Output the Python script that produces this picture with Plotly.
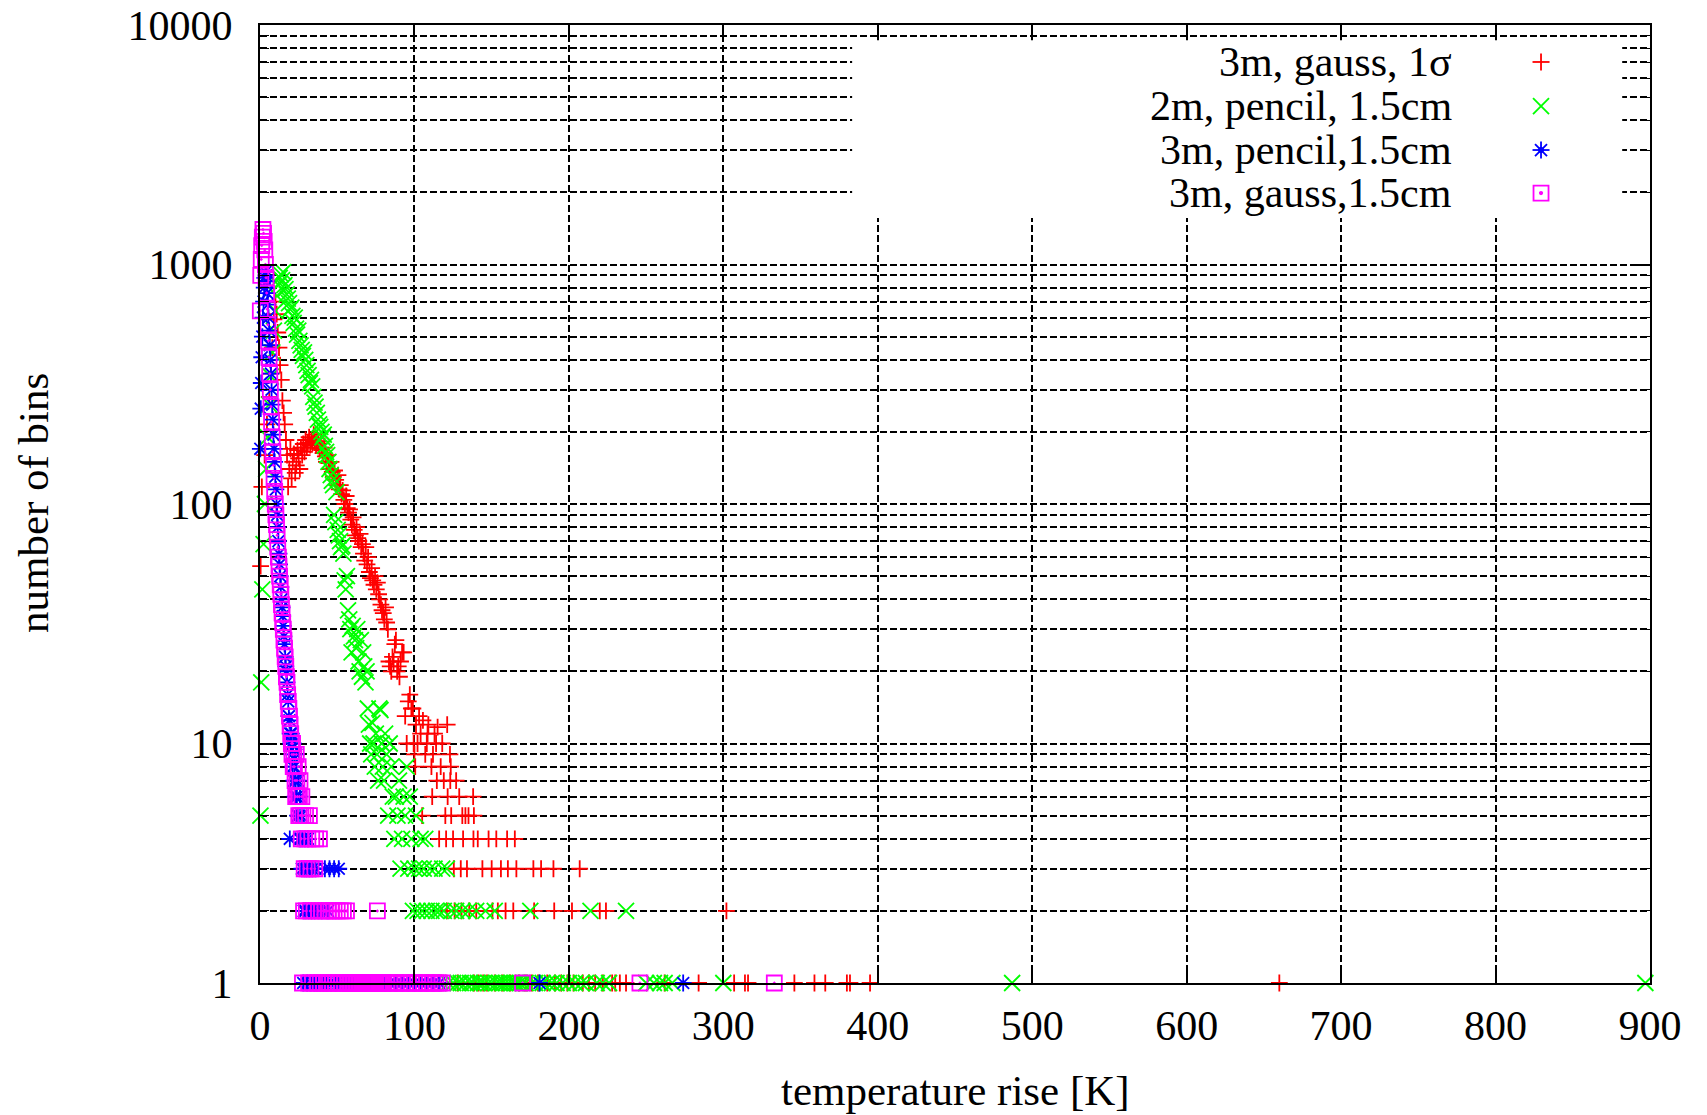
import plotly.graph_objects as go

# ---- data: counts per temperature-rise value ----

# 3m, gauss, 1 sigma
red_x = [0.4, 1.2, 3, 4.5, 6, 7, 8, 9, 10, 10.8, 11.5, 12.3, 13, 13.8, 14.5, 15.3, 16, 16.8, 17.5,
         18.2, 19, 19.7, 20.5, 21.2, 22, 22.8, 23.5, 24.3, 25, 25.8, 26.5, 27.3, 28, 28.8, 29.5,
         30.3, 31, 31.8, 32.5, 33.3, 34, 34.8, 35.5, 36.3, 37, 37.8, 38.5, 39.3, 40, 40.8, 41.5,
         42.3, 43, 43.8, 44.5, 45.3, 46, 46.8, 47.5, 48.3, 49, 49.8, 50.5, 51.3, 52, 52.8, 53.5,
         54.3, 55, 55.8, 56.5, 57.3, 58, 58.8, 59.5, 60.3, 61, 61.8, 62.5, 63.3, 64, 64.8, 65.5,
         66.3, 67, 67.8, 68.5, 69.3, 70, 70.8, 71.5, 72.3, 73, 73.8, 74.5, 75.3, 76, 76.8, 77.5,
         78.3, 79, 79.8, 80.5, 81.3, 82, 82.8, 83.5, 84.3, 85, 85.8, 86.5, 87.3, 88, 88.8, 89.5,
         90.3, 91, 92, 93, 94, 96, 97, 98, 99,
         95, 99.5, 102, 108, 114, 118,
         100, 107, 112, 123,
         100.5, 111, 117, 123.5,
         114.5, 119, 123.2, 127,
         111.5, 121.5, 129, 138,
         105, 120, 123.8, 131, 133, 135, 138.5,
         116, 120.5, 125, 131.5, 138.2, 141, 148, 153, 160, 165,
         125.5, 130, 134, 144, 150, 156, 160.5, 166, 177, 182, 190, 207,
         121, 126, 130.5, 135.5, 140, 150.5, 154, 159, 164, 177.5, 190.5, 202, 220, 224, 302,
         101, 103, 104, 105.5, 108.5, 109, 113, 115, 121.2,
         128, 138.6, 141.5, 144.5, 147, 152, 157, 162, 168, 172, 176, 180, 186, 191, 195, 199,
         203, 209, 213, 217, 222, 228, 230, 233, 237, 262, 284, 307, 314, 316, 346, 359, 366,
         380, 382, 395, 660]
red_y = [55, 118, 160, 215, 280, 350, 450, 590, 700, 620, 520, 450, 380, 330, 270, 240, 215, 185, 160,
         118, 140, 170, 128, 150, 162, 135, 145, 168, 155, 140, 172, 160, 178, 165, 185,
         172, 180, 190, 176, 186, 180, 195, 183, 176, 188, 178, 170, 182, 168, 163, 172,
         158, 150, 160, 148, 140, 150, 136, 130, 138, 126, 120, 132, 115, 120, 110, 114,
         104, 100, 108, 96, 92, 95, 86, 82, 88, 78, 74, 80, 72, 70, 75, 66,
         68, 62, 58, 66, 56, 60, 52, 49, 54, 48, 46, 50, 44, 47, 42, 40,
         38, 36, 35, 33, 37, 32, 30, 22, 21, 20, 23, 22, 26, 27, 20, 21,
         19, 22, 24, 24, 13, 15, 16, 14, 14,
         10, 10, 10, 10, 10, 10,
         9, 9, 9, 9,
         8, 8, 8, 8,
         7, 7, 7, 7,
         6, 6, 6, 6,
         5, 5, 5, 5, 5, 5, 5,
         4, 4, 4, 4, 4, 4, 4, 4, 4, 4,
         3, 3, 3, 3, 3, 3, 3, 3, 3, 3, 3, 3,
         2, 2, 2, 2, 2, 2, 2, 2, 2, 2, 2, 2, 2, 2, 2,
         12, 13, 11, 12.5, 11, 12, 11, 11.7, 12,
         1, 1, 1, 1, 1, 1, 1, 1, 1, 1, 1, 1, 1, 1, 1, 1,
         1, 1, 1, 1, 1, 1, 1, 1, 1, 1, 1, 1, 1, 1, 1, 1, 1,
         1, 1, 1, 1]

# 2m, pencil, 1.5cm
green_x = [0.3, 0.8, 1.5, 2.3, 3.2, 4, 5, 6, 7, 8, 9, 10, 11, 12, 12.8, 13.5, 14.3, 15, 15.8,
           16.5, 17.3, 18, 18.8, 19.5, 20.3, 21, 21.8, 22.5, 23.3, 24, 24.8, 25.5, 26.3, 27,
           27.8, 28.5, 29.3, 30, 30.8, 31.5, 32.3, 33, 33.8, 34.5, 35.3, 36, 36.8, 37.5, 38.3,
           39, 39.8, 40.5, 41.3, 42, 42.8, 43.5, 44.3, 45, 45.8, 46.5, 47.3, 48, 48.8, 49.5,
           50.3, 51, 51.8, 52.5, 53.3, 54, 54.8, 55.5, 56.3, 57, 57.8, 58.5, 59.3, 60, 60.8,
           61.5, 62.3, 63, 63.8, 64.5, 65.3, 66, 66.8, 67.5, 68.3, 69, 69.8, 70.5, 71.3, 72,
           72.8, 73.5, 74.3, 75, 75.8, 76.5, 77.3, 78, 78.8, 79.5, 80.3, 81, 82, 83, 84, 85,
           86, 87, 88, 89, 90, 91, 92, 93, 94, 95, 96, 97, 98, 99, 100, 101, 102, 103, 104,
           105, 106, 107, 108, 110, 111, 113, 114, 116, 118, 119, 121, 122, 124, 125, 127, 128,
           130, 131, 133, 135, 136, 138, 140, 141, 143, 145, 146, 148, 150, 152, 153, 155, 157,
           159, 161, 163, 165, 166, 168, 170, 172, 175, 176, 178, 183, 186, 189, 192, 196, 200,
           204, 208, 211, 214, 218, 222, 226, 237, 250, 255, 259, 262, 267, 300, 487, 897]
green_y = [5, 18, 44, 68, 100, 140, 190, 260, 340, 430, 530, 640, 740, 820, 880, 910, 860, 930, 820,
           790, 750, 720, 690, 650, 660, 610, 570, 600, 540, 510, 530, 480, 460, 440,
           415, 430, 400, 380, 360, 345, 320, 330, 310, 280, 265, 255, 240, 225, 215,
           210, 200, 190, 195, 175, 165, 160, 150, 140, 132, 125, 120, 90, 84, 112,
           78, 74, 70, 66, 67, 62, 48, 44, 50, 36, 33, 30, 24, 31, 28,
           27, 25, 30, 22, 20, 27, 19, 24, 21, 18, 20, 14, 12, 10, 9,
           12.2, 10, 8, 11, 9, 7, 14, 13.8, 10, 8, 7, 11, 9, 5, 10, 8,
           6, 4, 6, 5, 7, 3, 4, 6, 5, 8, 3, 6, 4, 2, 3, 5, 2, 3, 4,
           2, 3, 4, 2, 3, 2, 3, 2, 2, 3, 2, 3, 1, 2, 1, 2, 1,
           1, 2, 1, 2, 1, 1, 2, 1, 1, 1, 2, 1, 1, 2, 1, 1, 1,
           1, 1, 1, 1, 1, 1, 1, 1, 2, 1, 1, 1, 1, 1, 1, 1, 1,
           1, 1, 1, 2, 1, 1, 1, 2, 1, 1, 1, 1, 1, 1, 1, 1]

# 3m, pencil, 1.5cm
blue_x = [0.2, 0.5, 0.8, 1.1, 1.5, 1.9, 2.3, 2.7, 3.1, 3.5, 3.9, 4.3, 4.7, 5.1, 5.5, 5.9, 6.3,
          6.7, 7.1, 7.5, 7.9, 8.3, 8.7, 9.1, 9.5, 9.9, 10.3, 10.7, 11.1, 11.5, 11.9, 12.3, 12.7,
          13.1, 13.5, 13.9, 14.3, 14.7, 15.1, 15.5, 15.9, 16.3, 16.7, 17.1, 17.5, 17.9, 18.3,
          18.7, 19.1, 19.5, 19.9, 20.3, 20.7, 21.1, 21.5, 21.9, 22.3, 22.7, 23.1, 23.5, 23.9,
          24.3, 24.7, 25.1, 25.5, 25.9, 26.3, 26.7, 27.1, 27.5, 28, 28.3, 28.7, 29.1, 29.5, 30,
          30.5, 31, 31.5, 32, 33, 33.5, 34, 35, 35.5, 36, 37, 38, 39, 40, 41, 42, 43, 44, 45,
          46, 48, 49, 51, 52, 54, 56, 58, 60, 62, 64, 66, 69, 72, 75, 78, 81, 84, 88, 92, 96,
          100, 104, 108, 112, 116, 181, 274, 19.3]
blue_y = [170, 250, 320, 410, 500, 600, 700, 800, 880, 930, 900, 850, 760, 680, 600, 530, 460,
          400, 350, 300, 260, 225, 195, 170, 150, 130, 115, 100, 90, 80, 70, 62, 56,
          50, 45, 40, 37, 34, 31, 28, 26, 23, 21, 20, 18, 16, 15,
          13, 12.5, 11, 10, 11, 9, 8, 10, 7, 8, 6, 7, 9, 6,
          5, 7, 5, 4, 6, 4, 5, 3, 4, 1, 2, 3, 4, 2, 3,
          1, 4, 2, 3, 1, 2, 3, 1, 2, 3, 1, 2, 1, 2, 1, 3, 1, 2, 3,
          1, 3, 1, 3, 1, 1, 1, 1, 1, 1, 1, 1, 1, 1, 1, 1, 1, 1, 1, 1, 1,
          1, 1, 1, 1, 1, 1, 1, 4]

# 3m, gauss, 1.5cm
magenta_x = [0.2, 0.5, 0.8, 1.1, 1.5, 1.9, 2.3, 2.7, 3.1, 3.5, 3.9, 4.3, 4.7, 5.1, 5.5, 5.9, 6.3,
             6.7, 7.1, 7.5, 7.9, 8.3, 8.7, 9.1, 9.5, 9.9, 10.3, 10.7, 11.1, 11.5, 11.9, 12.3,
             12.7, 13.1, 13.5, 13.9, 14.3, 14.7, 15.1, 15.5, 15.9, 16.3, 16.7, 17.1, 17.5, 17.9,
             18.3, 18.7, 19.1, 19.5, 19.9, 20.3, 20.7, 21.1, 21.5, 21.9, 22.3, 22.7, 23.1, 23.5,
             23.9, 24.3, 24.7, 25.1, 25.5, 25.9, 26.3, 26.7, 27.1, 27.5, 27.8, 28.2, 28.6, 29,
             29.5, 30, 30.5, 31, 31.5, 32, 32.5, 33, 33.5, 34, 35, 35.5, 36, 37, 38, 38.5, 39, 40,
             41, 42, 43, 44, 45, 46, 47, 48, 49, 50, 51, 52, 53, 54, 55, 56, 57, 58, 59, 60, 61,
             62, 63, 64, 65, 66, 67, 68, 69, 70, 71, 72, 73, 74, 75, 76, 77, 78, 79, 80, 82, 84,
             86, 88, 90, 92, 94, 96, 98, 100, 102, 104, 106, 108, 110, 112, 114, 116, 118, 170,
             246, 333]
magenta_y = [640, 900, 1050, 1200, 1300, 1400, 1350, 1250, 1150, 1000, 880, 760, 650, 560, 480, 410, 350,
             300, 255, 220, 190, 165, 145, 128, 113, 100, 90, 82, 74, 66, 60, 55,
             50, 46, 42, 38, 35, 32, 30, 27, 25, 23, 21, 19, 18, 16,
             15, 14, 13, 12, 11, 10, 9, 10, 8, 9, 8, 7, 6, 9,
             7, 6, 8, 5, 6, 7, 5, 4, 6, 1, 5, 2, 3, 4,
             5, 2, 3, 4, 1, 5, 2, 3, 4, 1, 2, 3, 4, 1, 2, 4, 1, 2,
             1, 2, 1, 2, 1, 2, 1, 2, 1, 2, 1, 2, 1, 2, 1, 2, 1, 1, 1, 1, 1,
             1, 1, 1, 1, 1, 1, 1, 1, 1, 1, 1, 1, 1, 1, 2, 1, 1, 1, 1, 1, 1,
             1, 1, 1, 1, 1, 1, 1, 1, 1, 1, 1, 1, 1, 1, 1, 1, 1, 1,
             1, 1]

series_names = ["3m, gauss, 1σ", "2m, pencil, 1.5cm", "3m, pencil,1.5cm", "3m, gauss,1.5cm"]

x_ticks = [0, 100, 200, 300, 400, 500, 600, 700, 800, 900]
y_ticks = [1, 10, 100, 1000, 10000]
y_tick_text = ["1", "10", "100", "1000", "10000"]
y_minor = [m * d for d in (1, 10, 100, 1000) for m in range(2, 10)]

x_title = "temperature rise [K]"
y_title = "number of bins"

# ---- styling ----
FONT = "Liberation Serif, Times New Roman, serif"
GRID = dict(color="black", width=1.7, dash="7px,3px")
MARK_W = 1.8

styles = [
    dict(symbol="cross-thin-open", size=12, color="#ff0000", key="plus"),
    dict(symbol="x-thin-open", size=16, color="#00ff00", key="cross"),
    dict(symbol="asterisk-open", size=14, color="#0000ff", key="star"),
    dict(symbol="square-open-dot", size=15, color="#ff00ff", key="box"),
]
data = [(red_x, red_y), (green_x, green_y), (blue_x, blue_y), (magenta_x, magenta_y)]

fig = go.Figure()
for (xs, ys), st, name in zip(data, styles, series_names):
    fig.add_trace(go.Scatter(
        x=xs, y=ys, mode="markers", name=name, showlegend=False, cliponaxis=False,
        marker=dict(symbol=st["symbol"], size=st["size"], color=st["color"],
                    line=dict(color=st["color"], width=MARK_W)),
    ))

# ---- key (gnuplot style: label right-aligned, sample symbol to its right) ----
# blank key area hides the grid behind the labels
fig.add_shape(type="rect", xref="paper", yref="paper",
              x0=0.426, x1=0.98, y0=0.7985, y1=0.984,
              fillcolor="white", line=dict(width=0), layer="above")


def key_symbol(kind, cx, cy, color):
    """Sample symbol drawn as pixel-sized shapes anchored at a paper position."""
    base = dict(xref="paper", yref="paper", xsizemode="pixel", ysizemode="pixel",
                xanchor=cx, yanchor=cy, layer="above",
                line=dict(color=color, width=MARK_W))
    segs = []
    if kind == "plus":
        segs = [(-8.5, 0, 8.5, 0), (0, -8.5, 0, 8.5)]
    elif kind == "cross":
        segs = [(-8, -8, 8, 8), (-8, 8, 8, -8)]
    elif kind == "star":
        segs = [(-8.5, 0, 8.5, 0), (0, -8.5, 0, 8.5), (-6, -6, 6, 6), (-6, 6, 6, -6)]
    for x0, y0, x1, y1 in segs:
        fig.add_shape(type="line", x0=x0, y0=y0, x1=x1, y1=y1, **base)
    if kind == "star":
        fig.add_shape(type="circle", x0=-2, y0=-2, x1=2, y1=2, fillcolor=color, **base)
    if kind == "box":
        fig.add_shape(type="rect", x0=-7.5, y0=-7.5, x1=7.5, y1=7.5, **base)
        fig.add_shape(type="circle", x0=-1.2, y0=-1.2, x1=1.2, y1=1.2, fillcolor=color, **base)


key_x = 0.9216
key_text_x = 0.859
key_rows = [0.9614, 0.9154, 0.8695, 0.8246]
for st, name, ky in zip(styles, series_names, key_rows):
    key_symbol(st["key"], key_x, ky, st["color"])
    fig.add_annotation(x=key_text_x, y=ky, xref="paper", yref="paper", text=name,
                       showarrow=False, xanchor="right", yanchor="middle",
                       font=dict(family=FONT, size=42, color="black"))

axis_common = dict(
    showline=True, linecolor="black", linewidth=2, mirror="ticks",
    ticks="inside", ticklen=17, tickwidth=1.5, tickcolor="black",
    showgrid=True, gridcolor=GRID["color"], gridwidth=GRID["width"], griddash=GRID["dash"],
    zeroline=False, automargin=False,
    tickfont=dict(family=FONT, size=42, color="black"),
)

fig.update_layout(
    width=1707, height=1115,
    margin=dict(l=260, r=57, t=25, b=132, autoexpand=False),
    paper_bgcolor="white", plot_bgcolor="white",
    xaxis=dict(range=[0, 900], tickmode="array", tickvals=x_ticks,
               ticklabelstandoff=5, **axis_common),
    yaxis=dict(type="log", range=[0, 4], tickmode="array", tickvals=y_ticks,
               ticktext=y_tick_text, ticklabelstandoff=17,
               minor=dict(tickmode="array", tickvals=y_minor, ticks="inside", ticklen=9,
                          tickwidth=1.2, tickcolor="black", showgrid=True,
                          gridcolor=GRID["color"], gridwidth=GRID["width"],
                          griddash=GRID["dash"]),
               **axis_common),
)

fig.add_annotation(x=0.5, y=-0.1127, xref="paper", yref="paper", text=x_title,
                   showarrow=False, xanchor="center", yanchor="middle",
                   font=dict(family=FONT, size=43, color="black"))
fig.add_annotation(x=-0.1633, y=0.501, xref="paper", yref="paper", text=y_title,
                   showarrow=False, xanchor="center", yanchor="middle", textangle=-90,
                   font=dict(family=FONT, size=43, color="black"))

fig.write_html("out.html")
